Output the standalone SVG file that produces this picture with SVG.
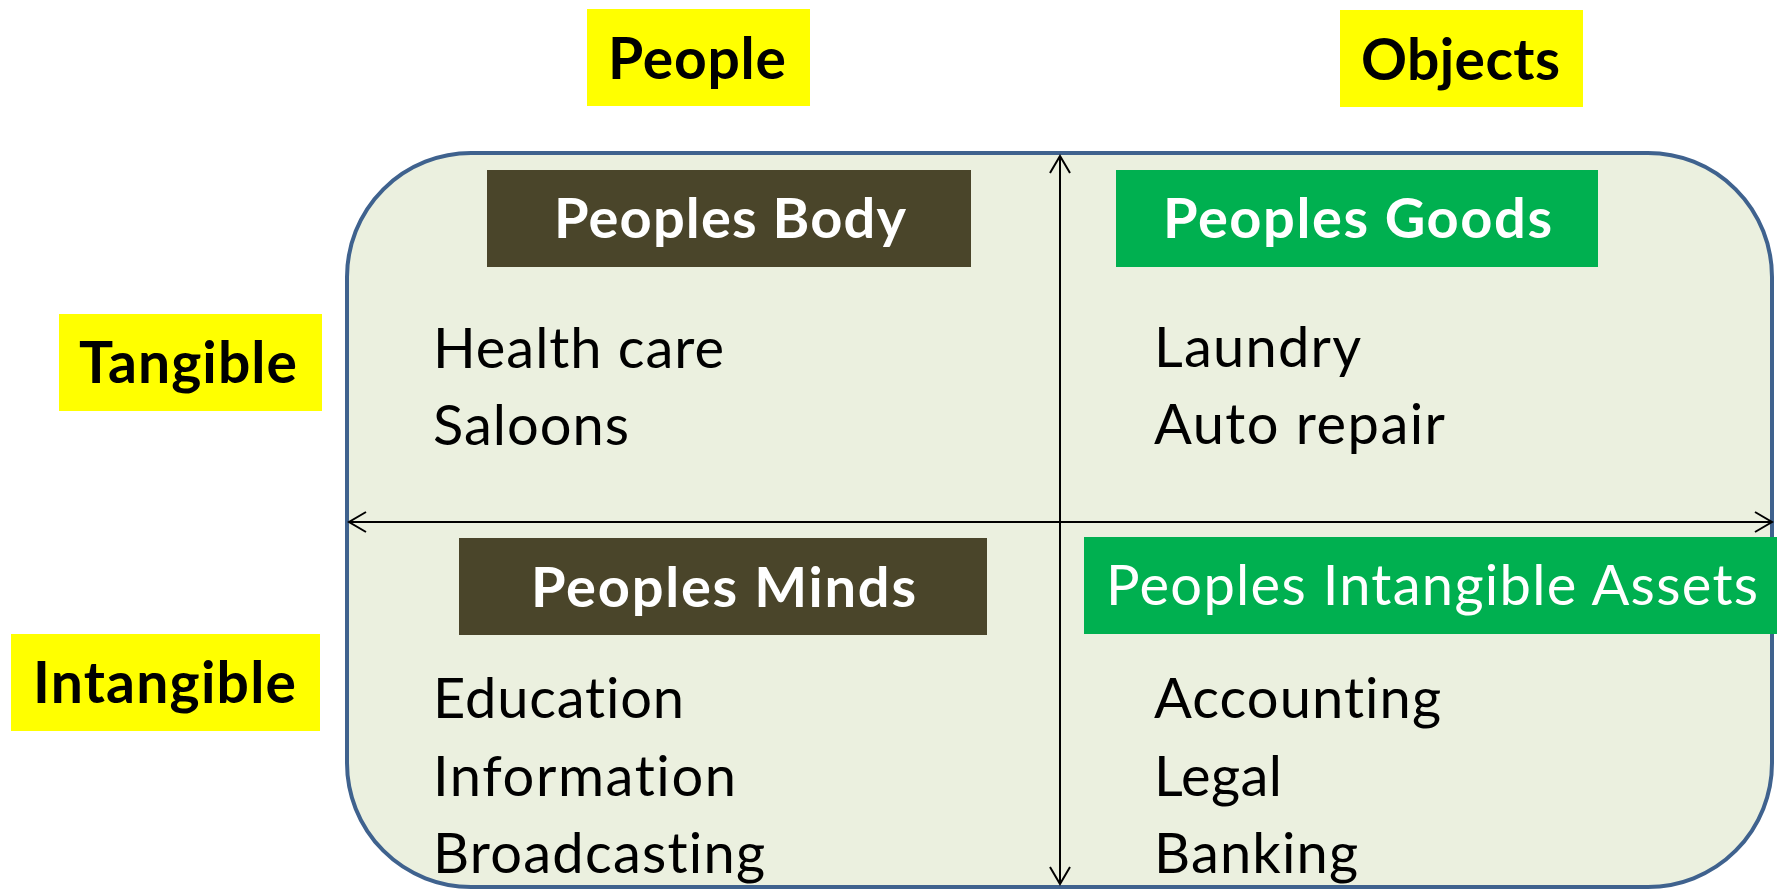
<svg xmlns="http://www.w3.org/2000/svg" width="1777" height="889" viewBox="0 0 1777 889">
<style>
text{font-variant-ligatures:none;font-feature-settings:"liga" 0}
.lbl{font-family:Lato,"Open Sans","Liberation Sans",sans-serif;font-weight:bold;font-size:57px;fill:#000}
.hd{font-family:Lato,"Open Sans","Liberation Sans",sans-serif;font-weight:bold;font-size:56px;fill:#fff}
.hdr{font-family:Lato,"Open Sans","Liberation Sans",sans-serif;font-weight:normal;font-size:56px;fill:#fff}
.it{font-family:Lato,"Open Sans","Liberation Sans",sans-serif;font-size:56px;fill:#000}
.yel{fill:#FFFF00}
.olive{fill:#4A452A}
.green{fill:#00B050}
.ax{stroke:#000;stroke-width:2;fill:none}
</style>
<defs>
<marker id="arr" markerUnits="userSpaceOnUse" markerWidth="22" markerHeight="24" refX="18" refY="11" orient="auto-start-reverse" viewBox="0 0 22 24">
<path d="M1,1 L18,11 L1,21" fill="none" stroke="#000" stroke-width="2"/>
</marker>
</defs>
<rect x="0" y="0" width="1777" height="889" fill="#fff"/>
<g id="frame">
<rect x="347" y="153" width="1425" height="734" rx="124" ry="124" fill="#EBF0DF" stroke="#3F628E" stroke-width="4"/>
</g>
<g id="connectors">
<line class="ax" x1="1060" y1="156" x2="1060" y2="884" marker-start="url(#arr)" marker-end="url(#arr)"/>
<line class="ax" x1="349" y1="522" x2="1772" y2="522" marker-start="url(#arr)" marker-end="url(#arr)"/>
</g>
<g id="people">
<rect class="yel" x="587" y="9" width="223" height="97"/>
<text class="lbl" x="608" y="79" textLength="178">People</text>
</g>
<g id="objects">
<rect class="yel" x="1340" y="10" width="243" height="97"/>
<text class="lbl" x="1361" y="80" textLength="199">Objects</text>
</g>
<g id="tangible">
<rect class="yel" x="59" y="314" width="263" height="97"/>
<text class="lbl" x="79" y="383" textLength="218">Tangible</text>
</g>
<g id="intangible">
<rect class="yel" x="11" y="634" width="309" height="97"/>
<text class="lbl" x="33" y="703" textLength="263">Intangible</text>
</g>
<g id="peoples-body">
<rect class="olive" x="487" y="170" width="484" height="97"/>
<text class="hd" x="554" y="238" textLength="352">Peoples Body</text>
<text class="it" x="433" y="368" textLength="291">Health care</text>
<text class="it" x="433" y="445" textLength="196">Saloons</text>
</g>
<g id="peoples-goods">
<rect class="green" x="1116" y="170" width="482" height="97"/>
<text class="hd" x="1163" y="238" textLength="389">Peoples Goods</text>
<text class="it" x="1154" y="367" textLength="207">Laundry</text>
<text class="it" x="1154" y="444" textLength="291">Auto repair</text>
</g>
<g id="peoples-minds">
<rect class="olive" x="459" y="538" width="528" height="97"/>
<text class="hd" x="531" y="607" textLength="385">Peoples Minds</text>
<text class="it" x="433" y="718" textLength="251">Education</text>
<text class="it" x="433" y="796" textLength="303">Information</text>
<text class="it" x="433" y="873" textLength="332">Broadcasting</text>
</g>
<g id="peoples-intangible-assets">
<rect class="green" x="1084" y="537" width="693" height="97"/>
<text class="hdr" x="1106" y="605" textLength="652">Peoples Intangible Assets</text>
<text class="it" x="1154" y="718" textLength="287">Accounting</text>
<text class="it" x="1154" y="796" textLength="128">Legal</text>
<text class="it" x="1154" y="873" textLength="204">Banking</text>
</g>
</svg>
